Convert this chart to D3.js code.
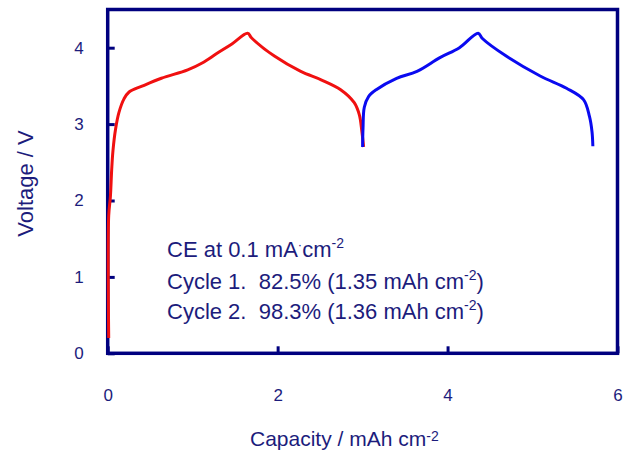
<!DOCTYPE html>
<html>
<head>
<meta charset="utf-8">
<script src="https://cdn.jsdelivr.net/npm/d3@7"></script>
<style>
  body { margin: 0; background: #fff; }
  text { font-family: "Liberation Sans", Arial, sans-serif; fill: #1c1c7c; }
</style>
</head>
<body>
<div id="chart"></div>
<script>
// Cycle 1 (red): charge then discharge
var cycle1Cap  = [0, 0, 0.02, 0.035, 0.05, 0.08, 0.12, 0.18, 0.24, 0.4, 0.62, 0.93, 1.1, 1.28, 1.45, 1.635,
                  1.68, 1.95, 2.26, 2.5, 2.73, 2.89, 2.95, 2.98, 3.0];
var cycle1Volt = [0.2, 1.8, 2.05, 2.4, 2.65, 2.93, 3.15, 3.33, 3.42, 3.5, 3.6, 3.71, 3.8, 3.93, 4.05, 4.19,
                  4.13, 3.89, 3.69, 3.58, 3.45, 3.28, 3.12, 2.9, 2.7];
// Cycle 2 (blue)
var cycle2Cap  = [3.0, 3.005, 3.02, 3.07, 3.16, 3.4, 3.64, 3.91, 4.14, 4.36,
                  4.41, 4.69, 5.09, 5.4, 5.6, 5.67, 5.7, 5.71];
var cycle2Volt = [2.7, 2.95, 3.22, 3.36, 3.45, 3.6, 3.69, 3.87, 4.0, 4.19,
                  4.12, 3.89, 3.63, 3.47, 3.32, 3.1, 2.9, 2.71];

var xTicks = [0, 2, 4, 6];
var yTicks = [0, 1, 2, 3, 4];

var svgWidth = 627, svgHeight = 453;
var margin = { top: 9.5, right: 9.5, bottom: 99.5, left: 107.7 };
var chartWidth = 617.5 - margin.left;
var chartHeight = 353.3 - margin.top;
var navy = "#00007f";

var svg = d3.select("#chart").append("svg")
  .attr("width", svgWidth)
  .attr("height", svgHeight);

var chartGroup = svg.append("g")
  .attr("transform", `translate(${margin.left}, ${margin.top})`);

var xScale = d3.scaleLinear().domain([0, 6]).range([0, chartWidth]);
var yScale = d3.scaleLinear().domain([0, 4.5]).range([chartHeight, 0]);

// Axes with inward ticks
var bottomAxis = d3.axisBottom(xScale).tickValues(xTicks).tickFormat(d3.format("d"))
  .tickSizeInner(-7).tickSizeOuter(0).tickPadding(36);
var leftAxis = d3.axisLeft(yScale).tickValues(yTicks).tickFormat(d3.format("d"))
  .tickSizeInner(-7).tickSizeOuter(0).tickPadding(24);

var gx = chartGroup.append("g")
  .attr("transform", `translate(0, ${chartHeight})`)
  .call(bottomAxis);
var gy = chartGroup.append("g").call(leftAxis);

[gx, gy].forEach(function(g) {
  g.select(".domain").remove();
  g.selectAll(".tick line").attr("stroke", navy).attr("stroke-width", 3);
  g.selectAll(".tick text").attr("font-size", 17).style("fill", "#1c1c7c");
});

// frame
chartGroup.append("rect")
  .attr("width", chartWidth).attr("height", chartHeight)
  .attr("fill", "none").attr("stroke", navy).attr("stroke-width", 3.5);

// curves
var line = d3.line()
  .x(d => xScale(d[0]))
  .y(d => yScale(d[1]))
  .curve(d3.curveCatmullRom.alpha(0.5));

var cycle1 = cycle1Cap.map((c, i) => [c, cycle1Volt[i]]);
var cycle2 = cycle2Cap.map((c, i) => [c, cycle2Volt[i]]);

chartGroup.append("path").datum(cycle1)
  .attr("d", line).attr("fill", "none")
  .attr("transform", "translate(1,0)")
  .attr("stroke", "#f01010").attr("stroke-width", 3);

chartGroup.append("path").datum(cycle2)
  .attr("d", line).attr("fill", "none")
  .attr("stroke", "#0a0af0").attr("stroke-width", 3);

// axis titles
svg.append("text")
  .attr("transform", `translate(33, 183.5) rotate(-90)`)
  .attr("text-anchor", "middle")
  .attr("font-size", 22)
  .text("Voltage / V");

var xt = svg.append("text")
  .attr("x", 250).attr("y", 446)
  .attr("font-size", 21);
xt.append("tspan").text("Capacity / mAh cm");
xt.append("tspan").attr("dy", -5).attr("font-size", 14).text("-2");

// annotation
var ann = chartGroup.append("g").attr("font-size", 22);
var t0 = ann.append("text").attr("x", 59.3).attr("y", 247.5);
t0.append("tspan").text("CE at 0.1 mA");
t0.append("tspan").attr("dy", -8).attr("font-size", 13).text("·");
t0.append("tspan").attr("dy", 8).text("cm");
t0.append("tspan").attr("dy", -9).attr("font-size", 14).text("-2");

var lines = [["Cycle 1.  82.5% (1.35 mAh cm", 279], ["Cycle 2.  98.3% (1.36 mAh cm", 309.5]];
lines.forEach(function(l) {
  var t = ann.append("text").attr("x", 59.3).attr("y", l[1]).attr("xml:space", "preserve");
  t.append("tspan").text(l[0]);
  t.append("tspan").attr("dy", -9).attr("font-size", 14).text("-2");
  t.append("tspan").attr("dy", 9).text(")");
});
</script>
</body>
</html>
